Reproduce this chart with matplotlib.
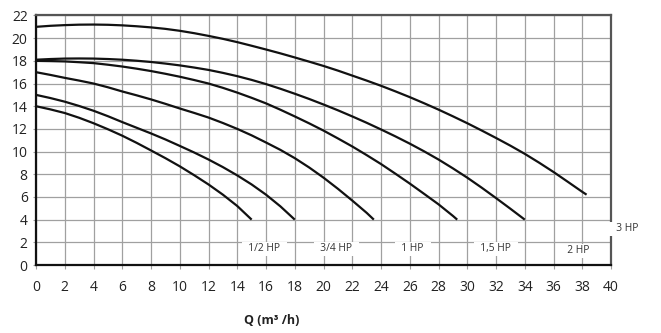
import matplotlib
matplotlib.use("Agg")
import matplotlib.pyplot as plt

plt.rcParams['font.family'] = ['Open Sans', 'DejaVu Sans']

# Pump head curves: flow Q (m3/h) vs head H (m)
q_half = [0, 1, 2, 3, 4, 5, 6, 7, 8, 9, 10, 11, 12, 13, 14, 15]
h_half = [14.0, 13.72, 13.4, 12.98, 12.5, 11.97, 11.4, 10.77, 10.1, 9.42,
          8.7, 7.92, 7.1, 6.2, 5.2, 4.0]

q_3q = [0, 1, 2, 3, 4, 5, 6, 7, 8, 9, 10, 11, 12, 13, 14, 15, 16, 17, 18]
h_3q = [15.0, 14.72, 14.4, 14.02, 13.6, 13.12, 12.6, 12.1, 11.6, 11.07,
        10.5, 9.92, 9.3, 8.63, 7.9, 7.1, 6.2, 5.17, 4.0]

q_1 = [0, 1, 2, 3, 4, 5, 6, 7, 8, 9, 10, 11, 12, 13, 14, 15, 16, 17, 18,
       19, 20, 21, 22, 23, 23.5]
h_1 = [17.0, 16.76, 16.5, 16.26, 16.0, 15.67, 15.3, 14.96, 14.6, 14.21,
       13.8, 13.41, 13.0, 12.52, 12.0, 11.43, 10.8, 10.15, 9.42, 8.6,
       7.7, 6.72, 5.68, 4.6, 4.0]

q_15 = [0, 1, 2, 3, 4, 5, 6, 7, 8, 9, 10, 11, 12, 13, 14, 15, 16, 17, 18,
        19, 20, 21, 22, 23, 24, 25, 26, 27, 28, 29, 29.3]
h_15 = [18.0, 17.98, 17.95, 17.88, 17.8, 17.66, 17.5, 17.31, 17.1, 16.86,
        16.6, 16.31, 16.0, 15.62, 15.2, 14.74, 14.25, 13.69, 13.1, 12.49,
        11.85, 11.16, 10.45, 9.69, 8.9, 8.05, 7.18, 6.27, 5.35, 4.33, 4.0]

q_2 = [0, 1, 2, 3, 4, 5, 6, 7, 8, 9, 10, 11, 12, 13, 14, 15, 16, 17, 18,
       19, 20, 21, 22, 23, 24, 25, 26, 27, 28, 29, 30, 31, 32, 33, 34]
h_2 = [18.1, 18.16, 18.2, 18.21, 18.2, 18.16, 18.1, 18.01, 17.9, 17.76,
       17.6, 17.41, 17.2, 16.94, 16.65, 16.32, 15.95, 15.54, 15.1, 14.64,
       14.15, 13.64, 13.1, 12.54, 11.95, 11.34, 10.7, 10.02, 9.3, 8.52,
       7.7, 6.82, 5.9, 4.96, 4.0]

q_3 = [0, 1, 2, 3, 4, 5, 6, 7, 8, 9, 10, 11, 12, 13, 14, 15, 16, 17, 18,
       19, 20, 21, 22, 23, 24, 25, 26, 27, 28, 29, 30, 31, 32, 33, 34, 35,
       36, 37, 38, 38.3]
h_3 = [21.0, 21.09, 21.15, 21.19, 21.2, 21.18, 21.13, 21.05, 20.95, 20.82,
       20.65, 20.44, 20.2, 19.94, 19.65, 19.33, 19.0, 18.66, 18.3, 17.93,
       17.55, 17.14, 16.7, 16.26, 15.8, 15.31, 14.8, 14.26, 13.7, 13.11,
       12.5, 11.86, 11.2, 10.52, 9.8, 9.02, 8.2, 7.33, 6.45, 6.2]

curves = [(q_half, h_half), (q_3q, h_3q), (q_1, h_1),
          (q_15, h_15), (q_2, h_2), (q_3, h_3)]

labels = ["1/2 HP", "3/4 HP", "1 HP", "1,5 HP", "2 HP", "3 HP"]
label_q = [15.9, 20.9, 26.2, 32.0, 37.7, 41.1]
label_h = [1.45, 1.45, 1.45, 1.45, 1.25, 3.2]

x_ticks = list(range(0, 41, 2))
y_ticks = list(range(0, 23, 2))

fig = plt.figure(figsize=(6.61, 3.33), dpi=100)
ax = fig.add_axes([0.0545, 0.2042, 0.8699, 0.7493])

ax.set_xlim(0, 40)
ax.set_ylim(0, 22)
ax.set_xticks(x_ticks)
ax.set_yticks(y_ticks)
ax.grid(True, color='#a0a0a0', linewidth=0.9, zorder=0)
ax.set_axisbelow(True)

for q, h in curves:
    ax.plot(q, h, color='#111111', linewidth=1.6, solid_capstyle='butt',
            solid_joinstyle='round', zorder=3)

for txt, x, y in zip(labels, label_q, label_h):
    ax.text(x, y, "  " + txt + "  ", ha='center', va='center', fontsize=7.4,
            color='#333333', zorder=4, clip_on=False,
            bbox=dict(boxstyle='square,pad=0.15', facecolor='white', edgecolor='none'))

for side in ('left', 'bottom'):
    ax.spines[side].set_color('#111111')
    ax.spines[side].set_linewidth(1.6)
for side in ('top', 'right'):
    ax.spines[side].set_color('#555555')
    ax.spines[side].set_linewidth(1.6)

ax.tick_params(axis='x', length=3, color='#a0a0a0', pad=8, labelsize=10,
               labelcolor='#222222')
ax.tick_params(axis='y', length=2, color='#a0a0a0', pad=4, labelsize=10,
               labelcolor='#222222')

ax.set_xlabel("Q (m³ /h)", fontsize=9, fontweight='bold', color='#222222')
ax.xaxis.set_label_coords(0.41, -0.195)

fig.savefig("out.png", dpi=100, facecolor='white')
